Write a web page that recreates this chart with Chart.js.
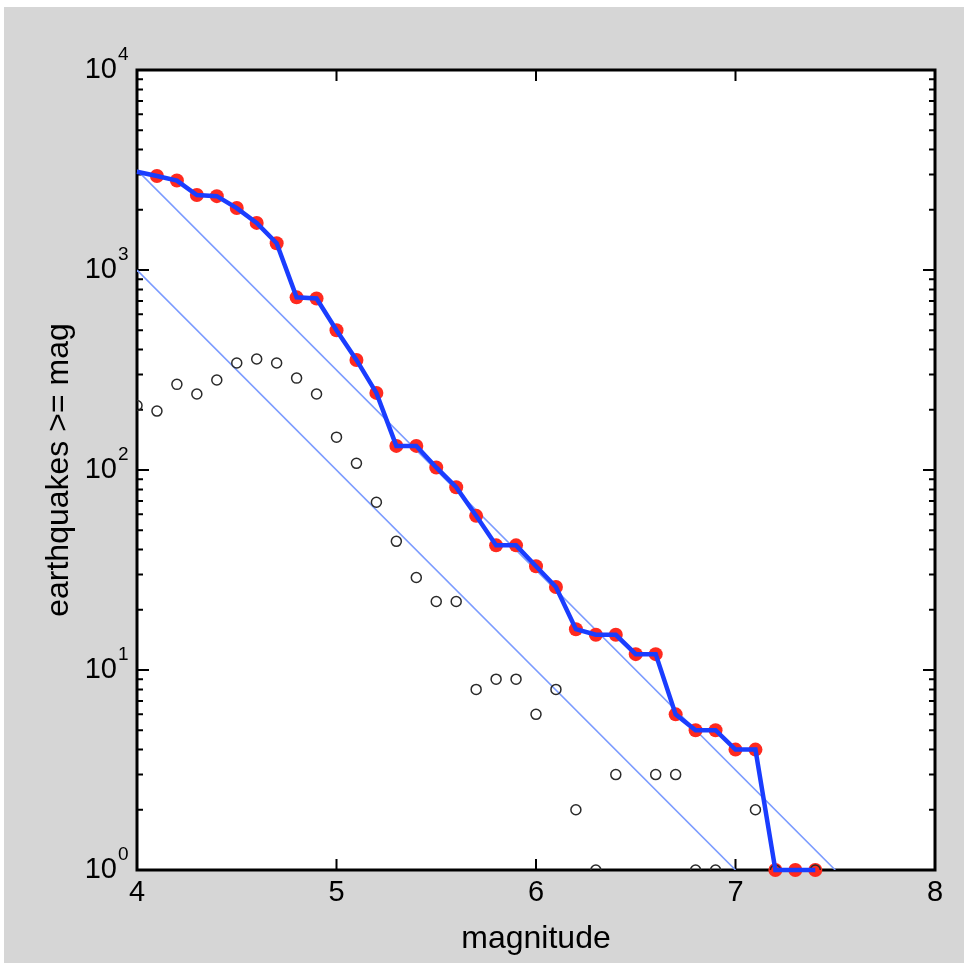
<!DOCTYPE html>
<html>
<head>
<meta charset="utf-8">
<script src="https://cdn.jsdelivr.net/npm/chart.js@4.4.1/dist/chart.umd.min.js"></script>
<style>
  html, body { margin: 0; background: #fff; }
  #wrap { position: absolute; left: 4px; top: 7px; width: 960px; height: 956px; background: #d6d6d6; }
</style>
</head>
<body>
<div id="wrap"><canvas id="gr"></canvas></div>
<script>
// magnitude bins, 0.1 wide
const magnitudes = [4.0, 4.1, 4.2, 4.3, 4.4, 4.5, 4.6, 4.7, 4.8, 4.9,
                    5.0, 5.1, 5.2, 5.3, 5.4, 5.5, 5.6, 5.7, 5.8, 5.9,
                    6.0, 6.1, 6.2, 6.3, 6.4, 6.5, 6.6, 6.7, 6.8, 6.9,
                    7.0, 7.1, 7.2, 7.3, 7.4];
// earthquakes >= mag
const cumulative = [3100, 2950, 2800, 2370, 2340, 2040, 1720, 1360, 730, 720,
                    500, 355, 243, 132, 132, 103, 82, 59, 42, 42,
                    33, 26, 16, 15, 15, 12, 12, 6, 5, 5,
                    4, 4, 1, 1, 1];
// earthquakes in each bin (null = none)
const perBin = [210, 197, 268, 240, 282, 343, 359, 343, 288, 240,
                146, 108, 69, 44, 29, 22, 22, 8, 9, 9,
                6, 8, 2, 1, 3, null, 3, 3, 1, 1,
                null, 2, 1, null, 1];
const fitUpper = [{ x: 4, y: 3162 }, { x: 7.5, y: 1 }];
const fitLower = [{ x: 4, y: 1000 }, { x: 7, y: 1 }];

const xTicks = [4, 5, 6, 7, 8];
const yDecades = [1, 10, 100, 1000, 10000];
const yExponents = ['0', '1', '2', '3', '4'];
const yMinor = [2, 3, 4, 5, 6, 7, 8, 9];

const pts = (ys) => magnitudes.map((m, i) => ({ x: m, y: ys[i] }));
const FONT = '"Liberation Sans", Arial, Helvetica, sans-serif';

const frame = {
  id: 'frame',
  beforeDatasetsDraw(chart) {
    const { ctx, chartArea: a, scales: { x, y } } = chart;
    ctx.save();
    ctx.fillStyle = '#fff';
    ctx.fillRect(a.left, a.top, a.width, a.height);

    ctx.strokeStyle = '#000';
    ctx.lineWidth = 2;
    ctx.beginPath();
    yDecades.forEach((d, i) => {
      const py = y.getPixelForValue(d);
      ctx.moveTo(a.left, py); ctx.lineTo(a.left + 12, py);
      ctx.moveTo(a.right, py); ctx.lineTo(a.right - 12, py);
      if (i < yDecades.length - 1) {
        yMinor.forEach(m => {
          const q = y.getPixelForValue(d * m);
          ctx.moveTo(a.left, q); ctx.lineTo(a.left + 6, q);
          ctx.moveTo(a.right, q); ctx.lineTo(a.right - 6, q);
        });
      }
    });
    xTicks.forEach(v => {
      const px = x.getPixelForValue(v);
      ctx.moveTo(px, a.bottom); ctx.lineTo(px, a.bottom - 11);
      ctx.moveTo(px, a.top); ctx.lineTo(px, a.top + 11);
    });
    ctx.stroke();

    ctx.lineWidth = 3;
    ctx.strokeRect(a.left, a.top, a.width, a.height);

    // y tick labels 10^n
    ctx.fillStyle = '#000';
    ctx.textBaseline = 'middle';
    yDecades.forEach((d, i) => {
      const py = y.getPixelForValue(d);
      ctx.font = '29px ' + FONT;
      ctx.textAlign = 'right';
      ctx.fillText('10', a.left - 20, py);
      ctx.font = '19px ' + FONT;
      ctx.textAlign = 'left';
      ctx.fillText(yExponents[i], a.left - 19, py - 15);
    });
    ctx.restore();
  }
};

new Chart(document.getElementById('gr'), {
  type: 'line',
  data: {
    datasets: [
      {
        // staircase line on top
        data: pts(cumulative),
        borderColor: '#1a3dff',
        borderWidth: 4.5,
        pointRadius: 0,
        fill: false,
        clip: false,
        order: 0
      },
      {
        data: pts(perBin),
        showLine: false,
        pointRadius: 5,
        pointBorderWidth: 1.5,
        pointBorderColor: '#2a2a2a',
        pointBackgroundColor: 'rgba(0,0,0,0)',
        clip: 0,
        order: 1
      },
      {
        // red markers (none drawn at the first bin in the original)
        data: pts(cumulative).slice(1),
        showLine: false,
        pointRadius: 7,
        pointBorderWidth: 0,
        pointBackgroundColor: '#ff2a1f',
        clip: false,
        order: 2
      },
      {
        data: fitUpper,
        borderColor: '#7b9bff',
        borderWidth: 1.6,
        pointRadius: 0,
        order: 3
      },
      {
        data: fitLower,
        borderColor: '#7b9bff',
        borderWidth: 1.6,
        pointRadius: 0,
        order: 3
      }
    ]
  },
  options: {
    responsive: true,
    maintainAspectRatio: false,
    animation: false,
    events: [],
    layout: { padding: { left: 0, right: 29, top: 63, bottom: 0 } },
    plugins: { legend: { display: false }, tooltip: { enabled: false } },
    scales: {
      x: {
        type: 'linear',
        min: 4,
        max: 8,
        afterBuildTicks: (s) => { s.ticks = xTicks.map(v => ({ value: v })); },
        afterFit: (s) => { s.height = 93; },
        grid: { display: false, drawTicks: false },
        border: { display: false },
        ticks: { color: '#000', font: { size: 29, family: FONT }, padding: 6 },
        title: {
          display: true,
          text: 'magnitude',
          color: '#000',
          font: { size: 32, family: FONT },
          padding: { top: 0, bottom: 5 }
        }
      },
      y: {
        type: 'logarithmic',
        min: 1,
        max: 10000,
        afterFit: (s) => { s.width = 133; },
        grid: { display: false, drawTicks: false },
        border: { display: false },
        ticks: { display: false },
        title: {
          display: true,
          text: 'earthquakes >= mag',
          color: '#000',
          font: { size: 32, family: FONT },
          padding: { top: 36, bottom: 0 }
        }
      }
    }
  },
  plugins: [frame]
});
</script>
</body>
</html>
